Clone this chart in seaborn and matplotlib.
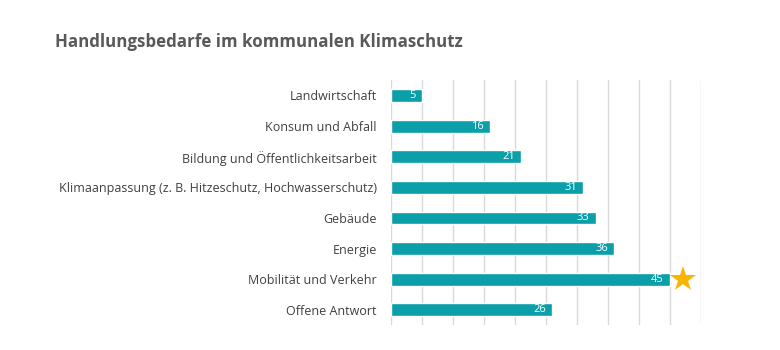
import pandas as pd
import seaborn as sns
import matplotlib.pyplot as plt

# Data
categories = [
    "Landwirtschaft",
    "Konsum und Abfall",
    "Bildung und Öffentlichkeitsarbeit",
    "Klimaanpassung (z. B. Hitzeschutz, Hochwasserschutz)",
    "Gebäude",
    "Energie",
    "Mobilität und Verkehr",
    "Offene Antwort",
]
values = [5, 16, 21, 31, 33, 36, 45, 26]
highlight = "Mobilität und Verkehr"

sns.set_theme(style="white")
plt.rcParams["font.family"] = ["Open Sans", "DejaVu Sans"]

df = pd.DataFrame({"category": categories, "value": values})

fig = plt.figure(figsize=(7.8, 3.5), dpi=100)
ax = fig.add_axes([0.501, 0.071, 0.398, 0.700])

bar_color = "#0A9FA9"
sns.barplot(data=df, x="value", y="category", orient="h", color=bar_color,
            saturation=1, width=0.42, ax=ax, zorder=3)

ax.set_xlim(0, 50)
ax.set_ylim(len(categories) - 0.5, -0.5)
ax.set_xticks(range(0, 51, 5))
ax.set_xticklabels([])
ax.tick_params(axis="x", length=0)
ax.tick_params(axis="y", length=0, pad=10, labelsize=9, labelcolor="#404040")
ax.grid(axis="x", color="#D9D9D9", linewidth=1, zorder=0)
ax.set_xlabel("")
ax.set_ylabel("")
for s in ax.spines.values():
    s.set_visible(False)

# value labels inside bar ends
for i, v in enumerate(values):
    ax.text(v - 1.0, i, str(v), ha="right", va="center", color="white",
            fontsize=8, zorder=4)

# highlight star
hi = categories.index(highlight)
ax.plot(values[hi] + 2.1, hi, marker="*", markersize=19, color="#F7B500",
        markeredgewidth=0, clip_on=False, zorder=5)

fig.text(0.07, 0.88, "Handlungsbedarfe im kommunalen Klimaschutz",
         fontsize=12.2, fontweight="bold", color="#595959", va="center")

fig.savefig("out.png", dpi=100)
